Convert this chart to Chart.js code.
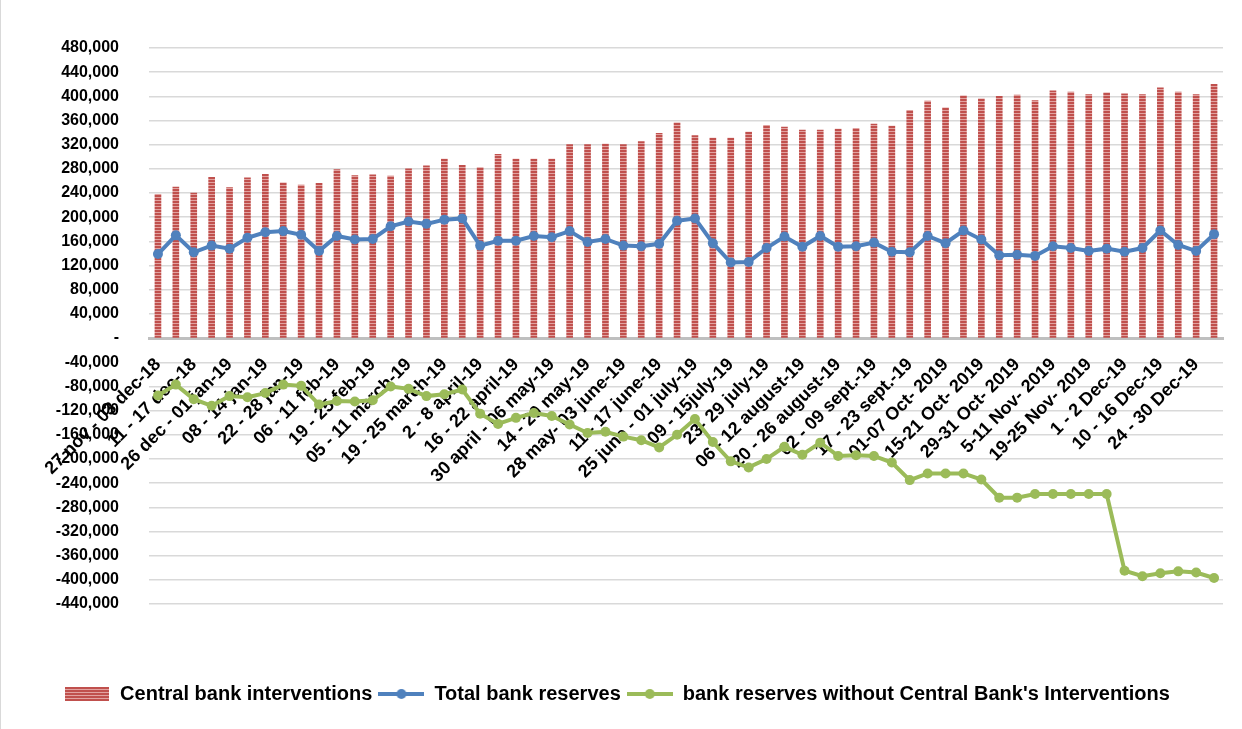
<!DOCTYPE html>
<html>
<head>
<meta charset="utf-8">
<script src="https://cdn.jsdelivr.net/npm/chart.js@4.4.1/dist/chart.umd.min.js"></script>
<style>
  html, body { margin: 0; padding: 0; background: #fff; }
  #wrap { position: relative; width: 1242px; height: 729px; box-sizing: border-box; border-left: 1px solid #d9d9d9; }
</style>
</head>
<body>
<div id="wrap"><canvas id="reservesChart"></canvas></div>
<script>
// weekly periods, only every other one is labelled on the axis
const weeks = [
    '27 nov - 03 dec-18', '04 - 10 dec-18', '11 - 17 dec-18', '18 - 25 dec-18',
    '26 dec - 01 jan-19', '02 - 07 jan-19', '08 - 14 jan-19', '15 - 21 jan-19',
    '22 - 28 jan-19', '29 jan - 05 feb-19', '06 - 11 feb-19', '12 - 18 feb-19',
    '19 - 25 feb-19', '26 feb - 04 march-19', '05 - 11 march-19', '12 - 18 march-19',
    '19 - 25 march-19', '26 march - 01 april-19', '2 - 8 april-19', '9 - 15 april-19',
    '16 - 22 april-19', '23 - 29 april-19', '30 april - 06 may-19', '07 - 13 may-19',
    '14 - 20 may-19', '21 - 27 may-19', '28 may- 03 june-19', '04 - 10 june-19',
    '11 - 17 june-19', '18 - 24 june-19', '25 june - 01 july-19', '02 - 08 july-19',
    '09 - 15july-19', '16 - 22 july-19', '23- 29 july-19', '30 july - 05 august-19',
    '06 - 12 august-19', '13 - 19 august-19', '20 - 26 august-19', '27 august - 01 sept.-19',
    '02 - 09 sept.-19', '10 - 16 sept.-19', '17 - 23 sept.-19', '24 - 30 sept.-19',
    '01-07 Oct- 2019', '08-14 Oct- 2019', '15-21 Oct- 2019', '22-28 Oct- 2019',
    '29-31 Oct- 2019', '1-4 Nov- 2019', '5-11 Nov- 2019', '12-18 Nov- 2019',
    '19-25 Nov- 2019', '26-30 Nov- 2019', '1 - 2 Dec-19', '3 - 9 Dec-19',
    '10 - 16 Dec-19', '17 - 23 Dec-19', '24 - 30 Dec-19', '31 Dec-19'
];

const interventions = [
    238000, 250000, 240000, 266000, 249000, 265000, 271000, 257000, 253000, 256000,
    279000, 269000, 270000, 268000, 280000, 285000, 296000, 286000, 282000, 304000,
    296000, 296000, 296000, 320000, 320000, 321000, 320000, 325000, 339000, 356000,
    335000, 331000, 331000, 341000, 352000, 349000, 344000, 344000, 346000, 347000,
    354000, 351000, 377000, 392000, 381000, 401000, 396000, 400000, 402000, 393000,
    409000, 407000, 403000, 406000, 404000, 403000, 414000, 407000, 403000, 420000
];

const totalReserves = [
    139000, 170000, 142000, 153000, 148000, 166000, 175000, 177000, 171000, 144000,
    169000, 163000, 164000, 185000, 193000, 189000, 196000, 198000, 153000, 161000,
    161000, 169000, 167000, 177000, 159000, 164000, 153000, 152000, 156000, 194000,
    198000, 157000, 125000, 126000, 149000, 168000, 151000, 169000, 151000, 152000,
    158000, 143000, 142000, 169000, 157000, 178000, 163000, 137000, 138000, 136000,
    152000, 149000, 144000, 148000, 143000, 149000, 178000, 154000, 144000, 172000
];

const reservesWithoutCB = [
    -95000, -77000, -101000, -112000, -96000, -98000, -91000, -77000, -79000, -110000,
    -104000, -105000, -103000, -80000, -84000, -96000, -93000, -85000, -125000, -142000,
    -132000, -124000, -129000, -143000, -157000, -155000, -163000, -169000, -181000, -160000,
    -134000, -172000, -204000, -214000, -200000, -180000, -193000, -173000, -195000, -194000,
    -195000, -206000, -235000, -224000, -224000, -224000, -234000, -264000, -264000, -258000,
    -258000, -258000, -258000, -258000, -385000, -394000, -389000, -386000, -388000, -397000
];

const yMin = -440000;
const yMax = 480000;
const yStep = 40000;

const RED = '#c0504d';
const RED_LIGHT = '#e2a3a1';
const BLUE = '#4f81bd';
const GREEN = '#9bbb59';
const FONT = 'Liberation Sans';

// horizontal red/pink stripes used for the bars
function stripeTile() {
    const c = document.createElement('canvas');
    c.width = 4;
    c.height = 3;
    const g = c.getContext('2d');
    g.fillStyle = RED;
    g.fillRect(0, 0, 4, 2);
    g.fillStyle = RED_LIGHT;
    g.fillRect(0, 2, 4, 1);
    return c;
}

// small legend pictures: striped block, and line with a marker
function barIcon() {
    const c = document.createElement('canvas');
    c.width = 44;
    c.height = 14;
    const g = c.getContext('2d');
    g.fillStyle = g.createPattern(stripeTile(), 'repeat');
    g.fillRect(0, 0, 44, 14);
    return c;
}

function lineIcon(color) {
    const c = document.createElement('canvas');
    c.width = 46;
    c.height = 12;
    const g = c.getContext('2d');
    g.strokeStyle = color;
    g.lineWidth = 4;
    g.beginPath();
    g.moveTo(0, 6);
    g.lineTo(46, 6);
    g.stroke();
    g.fillStyle = color;
    g.beginPath();
    g.arc(23, 6, 5, 0, Math.PI * 2);
    g.fill();
    return c;
}

document.addEventListener('DOMContentLoaded', function () {
    const canvas = document.getElementById('reservesChart');
    const ctx = canvas.getContext('2d');
    const stripes = ctx.createPattern(stripeTile(), 'repeat');
    const legendIcons = [barIcon(), lineIcon(BLUE), lineIcon(GREEN)];

    const data = {
        labels: weeks,
        datasets: [{
            type: 'bar',
            label: 'Central bank interventions',
            data: interventions,
            backgroundColor: stripes,
            barThickness: 6,
            order: 3
        }, {
            type: 'line',
            label: 'Total bank reserves',
            data: totalReserves,
            borderColor: BLUE,
            backgroundColor: BLUE,
            borderWidth: 4,
            pointRadius: 5,
            pointBorderWidth: 0,
            pointBackgroundColor: BLUE,
            tension: 0,
            order: 1
        }, {
            type: 'line',
            label: "bank reserves without Central Bank's Interventions",
            data: reservesWithoutCB,
            borderColor: GREEN,
            backgroundColor: GREEN,
            borderWidth: 4,
            pointRadius: 5,
            pointBorderWidth: 0,
            pointBackgroundColor: GREEN,
            tension: 0,
            order: 2
        }]
    };

    const config = {
        type: 'bar',
        data: data,
        options: {
            responsive: true,
            maintainAspectRatio: false,
            animation: false,
            layout: {
                padding: { top: 48, right: 19, bottom: 15, left: 10 }
            },
            plugins: {
                tooltip: { enabled: false },
                legend: {
                    position: 'bottom',
                    // empty title only keeps the legend clear of the rotated week labels
                    title: { display: true, text: '', font: { size: 10, lineHeight: 1 }, padding: { top: 64, bottom: 0 } },
                    labels: {
                        color: '#000',
                        font: { family: FONT, size: 20, weight: 'bold' },
                        usePointStyle: true,
                        pointStyleWidth: 46,
                        padding: 6,
                        sort: function (a, b) {
                            return a.datasetIndex - b.datasetIndex;
                        },
                        generateLabels: function (chart) {
                            const items = Chart.defaults.plugins.legend.labels.generateLabels(chart);
                            items.forEach(function (item) {
                                item.pointStyle = legendIcons[item.datasetIndex];
                            });
                            return items;
                        }
                    }
                }
            },
            scales: {
                x: {
                    position: { y: 0 },
                    // week labels may run past the plot edge, no extra room needed
                    afterFit: function (scale) {
                        scale.paddingRight = 0;
                    },
                    grid: { display: false, drawTicks: false },
                    border: { color: '#bfbfbf', width: 3 },
                    ticks: {
                        autoSkip: false,
                        minRotation: 45,
                        maxRotation: 45,
                        padding: 16,
                        color: '#000',
                        font: { family: FONT, size: 18, weight: 'bold' },
                        callback: function (value, index) {
                            return index % 2 === 0 ? weeks[index] : '';
                        }
                    }
                },
                y: {
                    min: yMin,
                    max: yMax,
                    afterFit: function (scale) {
                        scale.width = 138;
                    },
                    grid: { color: '#d9d9d9', lineWidth: 1.5, drawTicks: false },
                    border: { display: false },
                    ticks: {
                        stepSize: yStep,
                        padding: 30,
                        color: '#000',
                        font: { family: FONT, size: 16, weight: 'bold' },
                        callback: function (value) {
                            return value === 0 ? '-' : value.toLocaleString('en-US');
                        }
                    }
                }
            }
        }
    };

    new Chart(ctx, config);
});
</script>
</body>
</html>
